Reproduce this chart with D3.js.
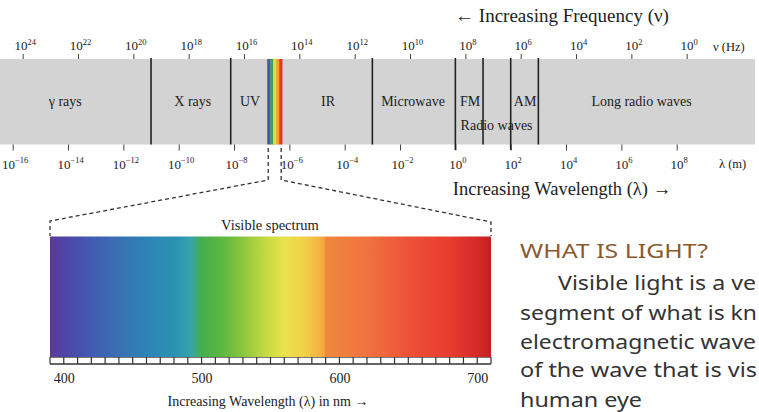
<!DOCTYPE html>
<html><head><meta charset="utf-8">
<script src="https://cdn.jsdelivr.net/npm/d3@7/dist/d3.min.js"></script>
<style>html,body{margin:0;padding:0;background:#fff;overflow:hidden}svg{display:block}</style>
</head><body><svg id="c" width="759" height="412"></svg>
<script>
// ---- data ----
const freqTicks = [24, 22, 20, 18, 16, 14, 12, 10, 8, 6, 4, 2, 0];            // log10 Hz
const waveTicks = [-16, -14, -12, -10, -8, -6, -4, -2, 0, 2, 4, 6, 8];      // log10 m
const dividers = [-11, -8.12, -3, 0, 1, 2, 3];                              // log10 m
const longDividers = [0, 2];                                                // extend below band
const visibleRange = [-6.8, -6.26];                                         // log10 m (not to scale)
const stripColors = ["#4a55b0", "#3f9f58", "#dfe040", "#f0a030", "#e6382a"];
const regionNames = ["γ rays", "X rays", "UV", "IR", "Microwave", "FM", "AM", "Long radio waves"];
const regionPos = [-14.1, -9.49, -7.42, -4.6, -1.53, 0.53, 2.52, 6.73];     // log10 m
const radioLabel = "Radio waves", radioPos = 1.49;
const nmTicks = [400, 500, 600, 700];
const nmMinor = d3.range(390, 711, 10);
const specStops = [
  [390, "#5a3a98"], [400, "#5044a6"], [420, "#405ab2"], [440, "#3a70b2"], [460, "#2c84b6"],
  [480, "#2a92b2"], [492, "#36a2ac"], [500, "#44ae4c"], [515, "#5cb840"], [530, "#8cc63e"],
  [545, "#c0d840"], [560, "#eae24c"], [575, "#f2d04a"], [586, "#f4b042"], [589, "#f2a640"],
  [590, "#f0883c"], [620, "#f07240"], [650, "#ee5238"], [680, "#e83c30"], [700, "#d42a28"], [710, "#c41f24"]
];
const heading = "WHAT IS LIGHT?";
const paraLines = ["Visible light is a ve", "segment of what is kn",
  "electromagnetic wave", "of the wave that is vis", "human eye"];

// ---- drawing ----
const svg = d3.select("#c");
const serif = "'Liberation Serif','DejaVu Serif',serif";
const fx = d3.scaleLinear().domain([24, 0]).range([22.7, 686.7]);
const wx = d3.scaleLinear().domain([-16, 8]).range([12.7, 676.7]);
const bandTop = 59, bandBot = 144.5;

svg.append("rect").attr("x", 0).attr("y", bandTop).attr("width", 755).attr("height", bandBot - bandTop).attr("fill", "#d3d3d3");

function powLabel(sel, e) {
  sel.text("");
  sel.append("tspan").text("10");
  sel.append("tspan").attr("font-size", "8.5px").attr("dy", "-5.5").text(e < 0 ? "−" + (-e) : e);
}

// top axis (frequency)
const topAx = svg.append("g").attr("transform", `translate(0,${bandTop})`)
  .call(d3.axisTop(fx).tickValues(freqTicks).tickSize(5).tickFormat(""));
topAx.select(".domain").remove();
topAx.selectAll(".tick line").attr("stroke", "#444");
topAx.selectAll(".tick").each(function(d) {
  const t = d3.select(this).append("text").attr("y", -9).attr("x", 2).attr("text-anchor", "middle")
    .attr("fill", "#222").attr("font-family", serif).attr("font-size", "13px");
  powLabel(t, d);
});
// bottom axis (wavelength)
const botAx = svg.append("g").attr("transform", `translate(0,${bandBot})`)
  .call(d3.axisBottom(wx).tickValues(waveTicks).tickSize(6).tickFormat(""));
botAx.select(".domain").remove();
botAx.selectAll(".tick line").attr("stroke", "#444");
botAx.selectAll(".tick").each(function(d) {
  const t = d3.select(this).append("text").attr("y", 24).attr("x", 2).attr("text-anchor", "middle")
    .attr("fill", "#222").attr("font-family", serif).attr("font-size", "13px");
  powLabel(t, d);
});

svg.append("text").attr("x", 713).attr("y", 51).attr("font-family", serif).attr("font-size", "12.5px").attr("fill", "#222").text("ν (Hz)");
svg.append("text").attr("x", 719).attr("y", 168).attr("font-family", serif).attr("font-size", "12.5px").attr("fill", "#222").text("λ (m)");
svg.append("text").attr("x", 562).attr("y", 22).attr("text-anchor", "middle").attr("font-family", serif).attr("font-size", "19px").attr("fill", "#222").text("← Increasing Frequency (ν)");
svg.append("text").attr("x", 562).attr("y", 195).attr("text-anchor", "middle").attr("font-family", serif).attr("font-size", "18.5px").attr("fill", "#222").text("Increasing Wavelength (λ) →");

// dividers
svg.selectAll("line.div").data(dividers).join("line").attr("class", "div")
  .attr("x1", d => wx(d)).attr("x2", d => wx(d)).attr("y1", bandTop - 1)
  .attr("y2", d => longDividers.includes(d) ? 150 : bandBot).attr("stroke", "#222").attr("stroke-width", 1.6);

// visible strip
const sx = d3.scaleBand().domain(d3.range(stripColors.length)).range([wx(visibleRange[0]), wx(visibleRange[1])]);
svg.selectAll("rect.strip").data(stripColors).join("rect").attr("class", "strip")
  .attr("x", (d, i) => sx(i)).attr("width", sx.bandwidth() + 0.3).attr("y", bandTop).attr("height", bandBot - bandTop).attr("fill", d => d);

// region labels
svg.selectAll("text.reg").data(regionNames).join("text").attr("class", "reg")
  .attr("x", (d, i) => wx(regionPos[i])).attr("y", 106).attr("text-anchor", "middle")
  .attr("font-family", serif).attr("font-size", "14px").attr("fill", "#222").text(d => d);
svg.append("text").attr("x", wx(radioPos)).attr("y", 130).attr("text-anchor", "middle")
  .attr("font-family", serif).attr("font-size", "14px").attr("fill", "#222").text(radioLabel);

// visible spectrum panel
const nx = d3.scaleLinear().domain([390, 710]).range([50, 491]);
const specTop = 236.5, specBot = 357;
const grad = svg.append("defs").append("linearGradient").attr("id", "spec")
  .attr("gradientUnits", "userSpaceOnUse").attr("x1", nx(390)).attr("x2", nx(710)).attr("y1", 0).attr("y2", 0);
grad.selectAll("stop").data(specStops).join("stop")
  .attr("offset", d => (d[0] - 390) / 320).attr("stop-color", d => d[1]);
svg.append("rect").attr("x", nx(390)).attr("y", specTop).attr("width", nx(710) - nx(390)).attr("height", specBot - specTop).attr("fill", "url(#spec)");

// ruler
svg.append("rect").attr("x", nx(390)).attr("y", specBot).attr("width", nx(710) - nx(390)).attr("height", 7).attr("fill", "#fff");
svg.append("line").attr("x1", nx(390)).attr("x2", nx(710)).attr("y1", specBot + 7).attr("y2", specBot + 7).attr("stroke", "#333").attr("stroke-width", 1.5);
svg.append("line").attr("x1", nx(390)).attr("x2", nx(710)).attr("y1", specBot + 0.5).attr("y2", specBot + 0.5).attr("stroke", "#555").attr("stroke-width", 0.8);
svg.selectAll("line.mt").data(nmMinor).join("line").attr("class", "mt")
  .attr("x1", d => nx(d)).attr("x2", d => nx(d)).attr("y1", specBot).attr("y2", specBot + 7).attr("stroke", "#333").attr("stroke-width", 1.2);
const nmAx = svg.append("g").attr("transform", `translate(0,${specBot + 7})`)
  .call(d3.axisBottom(nx).tickValues(nmTicks).tickSize(0).tickPadding(9));
nmAx.select(".domain").remove();
nmAx.selectAll("text").attr("font-family", serif).attr("font-size", "14px").attr("fill", "#222");
svg.append("text").attr("x", 268).attr("y", 406).attr("text-anchor", "middle").attr("font-family", serif)
  .attr("font-size", "14px").attr("fill", "#222").text("Increasing Wavelength (λ) in nm →");
svg.append("text").attr("x", 270).attr("y", 230).attr("text-anchor", "middle").attr("font-family", serif)
  .attr("font-size", "14.5px").attr("fill", "#222").text("Visible spectrum");

// dashed connectors
const dash = d3.line();
const l0 = wx(visibleRange[0]), l1 = wx(visibleRange[1]);
[[[l0 + 1, 148], [l0 + 1, 180], [nx(390), 221], [nx(390), 236]],
 [[l1 - 1, 148], [l1 - 1, 180], [nx(710), 222], [nx(710), 236]]].forEach(p => {
  svg.append("path").attr("d", dash(p)).attr("fill", "none").attr("stroke", "#333")
    .attr("stroke-width", 1.3).attr("stroke-dasharray", "4,3");
});

// side text
const sans = "'Noto Sans','Open Sans',sans-serif";
svg.append("text").attr("x", 520).attr("y", 257.5).attr("font-family", sans).attr("font-size", "20px")
  .attr("fill", "#8a5a2e").attr("textLength", 188).attr("lengthAdjust", "spacingAndGlyphs").text(heading);
const ys = [290, 320, 348.5, 377, 406.5];
const lens = [198, 237, 236, 237, 122];
svg.selectAll("text.para").data(paraLines).join("text").attr("class", "para")
  .attr("x", (d, i) => i === 0 ? 558 : 520).attr("y", (d, i) => ys[i])
  .attr("textLength", (d, i) => lens[i]).attr("lengthAdjust", "spacingAndGlyphs")
  .attr("font-family", sans).attr("font-size", "19px").attr("fill", "#333").text(d => d);
</script></body></html>
